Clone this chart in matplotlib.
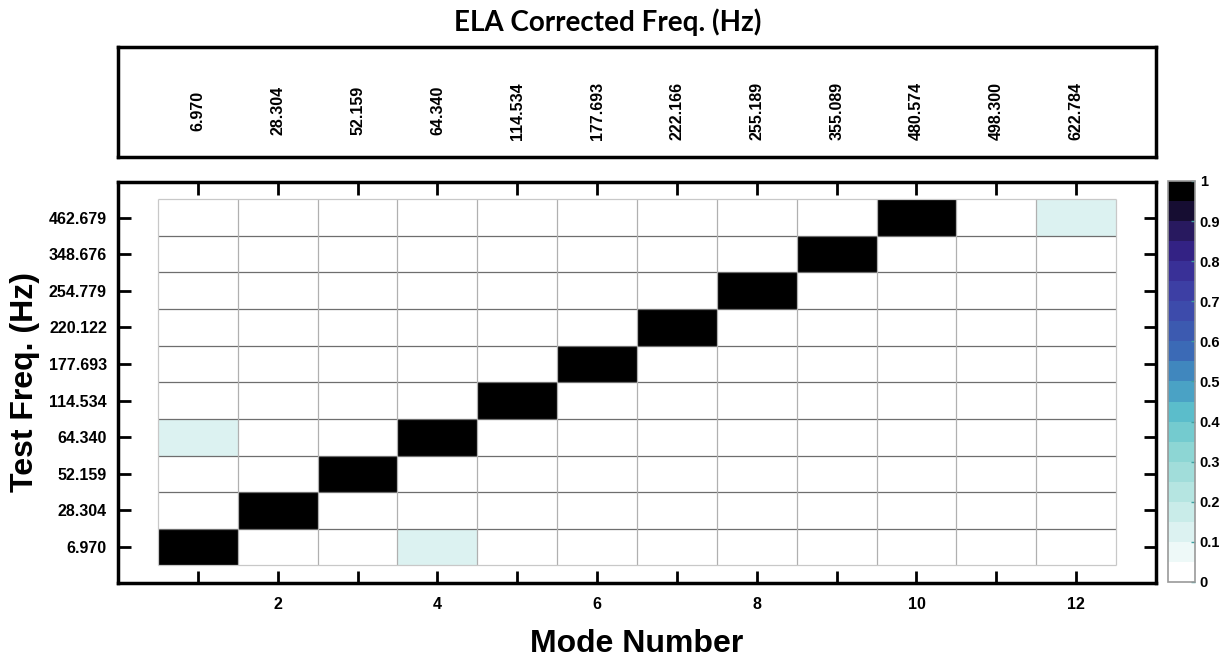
import numpy as np
import matplotlib.pyplot as plt
from matplotlib.colors import LinearSegmentedColormap

# data
modes = np.arange(1, 13)
ela_freq = ['6.970', '28.304', '52.159', '64.340', '114.534', '177.693',
            '222.166', '255.189', '355.089', '480.574', '498.300', '622.784']
test_freq = ['6.970', '28.304', '52.159', '64.340', '114.534', '177.693',
             '220.122', '254.779', '348.676', '462.679']
# rows = test modes (bottom to top), cols = ELA modes
mac = np.array([
    [1.0, 0.0, 0.0, 0.1, 0.0, 0.0, 0.0, 0.0, 0.0, 0.0, 0.0, 0.0],
    [0.0, 1.0, 0.0, 0.0, 0.0, 0.0, 0.0, 0.0, 0.0, 0.0, 0.0, 0.0],
    [0.0, 0.0, 1.0, 0.0, 0.0, 0.0, 0.0, 0.0, 0.0, 0.0, 0.0, 0.0],
    [0.1, 0.0, 0.0, 1.0, 0.0, 0.0, 0.0, 0.0, 0.0, 0.0, 0.0, 0.0],
    [0.0, 0.0, 0.0, 0.0, 1.0, 0.0, 0.0, 0.0, 0.0, 0.0, 0.0, 0.0],
    [0.0, 0.0, 0.0, 0.0, 0.0, 1.0, 0.0, 0.0, 0.0, 0.0, 0.0, 0.0],
    [0.0, 0.0, 0.0, 0.0, 0.0, 0.0, 1.0, 0.0, 0.0, 0.0, 0.0, 0.0],
    [0.0, 0.0, 0.0, 0.0, 0.0, 0.0, 0.0, 1.0, 0.0, 0.0, 0.0, 0.0],
    [0.0, 0.0, 0.0, 0.0, 0.0, 0.0, 0.0, 0.0, 1.0, 0.0, 0.0, 0.0],
    [0.0, 0.0, 0.0, 0.0, 0.0, 0.0, 0.0, 0.0, 0.0, 1.0, 0.0, 0.1],
])
cbar_ticks = np.round(np.arange(0, 1.01, 0.1), 1)

cols = ['#ffffff', '#e4f5f4', '#c6ebe8', '#a6dfdb', '#86d3d2', '#5cbfcc',
        '#4295c2', '#3b68b5', '#3d4fad', '#3d3ca2', '#35238a', '#23154f', '#000000']
cmap = LinearSegmentedColormap.from_list('mac', cols, N=20)

plt.rcParams['font.family'] = ['Liberation Sans', 'DejaVu Sans']
plt.rcParams['font.weight'] = 'bold'

fig = plt.figure(figsize=(12.32, 6.63), dpi=100)
ax = fig.add_axes([0.0958, 0.1207, 0.8425, 0.6048])
top = fig.add_axes([0.0958, 0.7632, 0.8425, 0.1659])
cax = fig.add_axes([0.948, 0.1222, 0.0219, 0.6048])

nr, nc = mac.shape
xe = np.arange(nc + 1) + 0.5
ye = np.arange(nr + 1) + 0.5
mesh = ax.pcolormesh(xe, ye, mac, cmap=cmap, vmin=0, vmax=1)
ax.hlines(ye[1:-1], xe[0], xe[-1], colors='#6e6e6e', lw=0.9)
ax.vlines(xe[1:-1], ye[0], ye[-1], colors='#b0b0b0', lw=0.9)
ax.hlines(ye[[0, -1]], xe[0], xe[-1], colors='#c8c8c8', lw=0.9)
ax.vlines(xe[[0, -1]], ye[0], ye[-1], colors='#c8c8c8', lw=0.9)

ax.set_xlim(0, 13)
ax.set_ylim(0.02, 10.97)
ax.set_xticks(modes)
ax.set_xticklabels([str(m) if m % 2 == 0 else '' for m in modes])
ax.set_yticks(np.arange(1, nr + 1))
ax.set_yticklabels(test_freq)
ax.tick_params(direction='in', length=9, width=2, top=True, right=True,
               labelsize=11.5, pad=8)
ax.tick_params(axis='x', pad=10)
for s in ax.spines.values():
    s.set_linewidth(2.5)
ax.set_xlabel('Mode Number', fontsize=23, fontweight='bold', labelpad=12)
ax.set_ylabel('Test Freq. (Hz)', fontsize=23, fontweight='bold', labelpad=6)

top.set_xlim(0, 13)
top.set_ylim(0, 1)
top.set_xticks([])
top.set_yticks([])
for s in top.spines.values():
    s.set_linewidth(2.5)
for m, lab in zip(modes, ela_freq):
    top.text(m, 0.42, lab, rotation=90, ha='center', va='center', fontsize=11.5,
             fontweight='bold')
fig.text(0.493, 0.967, 'ELA Corrected Freq. (Hz)', ha='center', va='center',
         fontsize=20, fontweight='bold', family=['Lato', 'DejaVu Sans'])

cb = fig.colorbar(mesh, cax=cax, ticks=cbar_ticks)
cb.ax.set_yticklabels(['0' if t == 0 else ('1' if t == 1 else f'{t:.1f}') for t in cbar_ticks])
cb.ax.tick_params(direction='in', length=3, width=1, labelsize=10.5, color='#40a0a0')
cb.outline.set_edgecolor('#999999')
cb.outline.set_linewidth(1.2)

fig.savefig('out.png', dpi=100)
